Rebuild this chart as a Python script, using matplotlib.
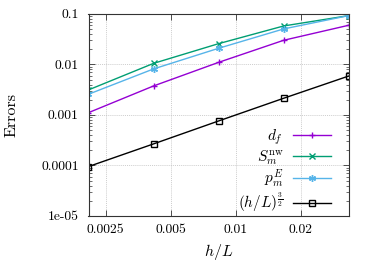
import matplotlib
matplotlib.use("Agg")
import matplotlib.pyplot as plt
import numpy as np

plt.rcParams['font.family'] = ['cmr10', 'DejaVu Serif']
plt.rcParams['mathtext.fontset'] = 'cm'
plt.rcParams['axes.unicode_minus'] = False

# data
h_over_L = [1/480, 2/480, 4/480, 8/480, 16/480]
d_f = [0.00111, 0.00375, 0.0110, 0.0301, 0.0597]
S_nw = [0.00313, 0.0105, 0.0258, 0.0578, 0.0927]
p_E = [0.00257, 0.00815, 0.0209, 0.0505, 0.0927]
ref = [9.5e-5, 2.67e-4, 7.6e-4, 2.14e-3, 5.9e-3]

labels = [r'$d_f$', r'$S_m^{\mathrm{nw}}$', r'$p_m^E$', r'$(h/L)^{\frac{3}{2}}$']
colors = ['#9400D3', '#009E73', '#56B4E9', '#000000']
markers = ['+', 'x', (6, 2, 0), 's']

xticks = [0.0025, 0.005, 0.01, 0.02]
xticklabels = ['0.0025', '0.005', '0.01', '0.02']
yticks = [1e-5, 1e-4, 1e-3, 1e-2, 1e-1]
yticklabels = ['1e-05', '0.0001', '0.001', '0.01', '0.1']

fig = plt.figure(figsize=(3.75, 2.63), dpi=100)
ax = fig.add_axes([0.236, 0.179, 0.694, 0.768])

for ys, lab, c, m in zip([d_f, S_nw, p_E, ref], labels, colors, markers):
    ax.plot(h_over_L, ys, color=c, marker=m, markersize=5, lw=1.0,
            markerfacecolor='none' if m == 's' else c, markeredgewidth=1.0,
            label=lab)

ax.set_xscale('log')
ax.set_yscale('log')
ax.set_xlim(h_over_L[0], h_over_L[-1])
ax.set_ylim(1e-5, 0.1)
ax.set_xticks(xticks)
ax.set_xticklabels(xticklabels)
ax.xaxis.set_minor_locator(matplotlib.ticker.NullLocator())
ax.set_yticks(yticks)
ax.set_yticklabels(yticklabels)
ax.yaxis.set_minor_locator(matplotlib.ticker.LogLocator(base=10, subs=np.arange(2, 10)))
ax.yaxis.set_minor_formatter(matplotlib.ticker.NullFormatter())

ax.tick_params(which='both', direction='in', top=True, right=True, labelsize=9.8,
               color='#333333')
ax.tick_params(which='major', length=4, width=0.6)
ax.tick_params(which='minor', length=2, width=0.5)
ax.tick_params(axis='x', pad=6)
ax.tick_params(axis='y', pad=7)
for sp in ax.spines.values():
    sp.set_color('#333333')
    sp.set_linewidth(0.8)

ax.grid(True, which='major', color='#bbbbbb', linestyle=(0, (1.5, 1.5)), lw=0.5)

ax.set_xlabel(r'$h/L$', fontsize=11.5)
ax.set_ylabel('Errors', fontsize=11.5)
ax.xaxis.set_label_coords(0.5, -0.13)
ax.yaxis.set_label_coords(-0.267, 0.5)

leg = ax.legend(loc='lower right', bbox_to_anchor=(0.954, -0.02),
                markerfirst=False, frameon=False, fontsize=11,
                handlelength=2.45, labelspacing=0.05, borderaxespad=0,
                borderpad=0.4, handletextpad=0.65)
for t in leg.get_texts():
    t.set_ha('right')

fig.savefig('out.png', dpi=100)
